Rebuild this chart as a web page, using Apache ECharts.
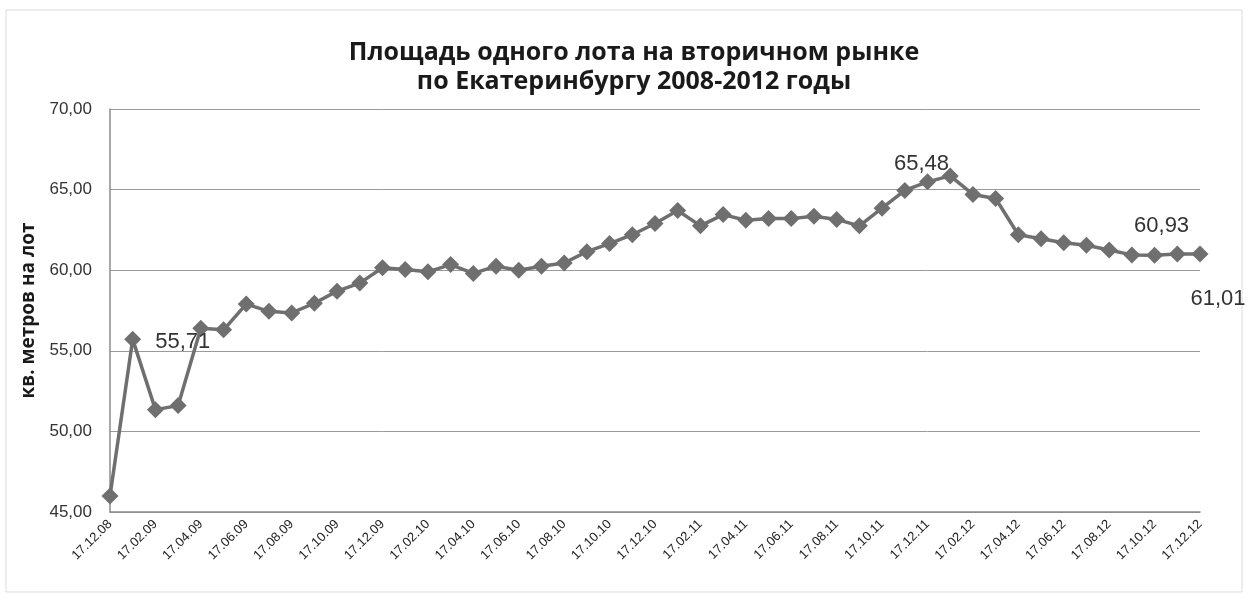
<!DOCTYPE html>
<html>
<head>
<meta charset="utf-8">
<script src="https://cdn.jsdelivr.net/npm/echarts@6/dist/echarts.min.js"></script>
<style>
html,body{margin:0;padding:0;background:#fff;}
#chart{width:1248px;height:599px;}
</style>
</head>
<body>
<div id="chart"></div>
<script>
const categories = [
  '17.12.08','17.01.09','17.02.09','17.03.09','17.04.09','17.05.09','17.06.09','17.07.09','17.08.09','17.09.09','17.10.09','17.11.09',
  '17.12.09','17.01.10','17.02.10','17.03.10','17.04.10','17.05.10','17.06.10','17.07.10','17.08.10','17.09.10','17.10.10','17.11.10',
  '17.12.10','17.01.11','17.02.11','17.03.11','17.04.11','17.05.11','17.06.11','17.07.11','17.08.11','17.09.11','17.10.11','17.11.11',
  '17.12.11','17.01.12','17.02.12','17.03.12','17.04.12','17.05.12','17.06.12','17.07.12','17.08.12','17.09.12','17.10.12','17.11.12',
  '17.12.12'
];
const values = [
  46.00, 55.71, 51.35, 51.60, 56.40, 56.30, 57.90, 57.45, 57.35, 57.95, 58.70, 59.20,
  60.15, 60.05, 59.90, 60.35, 59.80, 60.25, 60.00, 60.25, 60.45, 61.15, 61.65, 62.20,
  62.90, 63.70, 62.75, 63.45, 63.10, 63.20, 63.20, 63.35, 63.15, 62.75, 63.85, 64.95,
  65.48, 65.85, 64.70, 64.45, 62.20, 61.95, 61.70, 61.55, 61.25, 60.95, 60.93, 61.00,
  61.01
];
const labeledIndices = [1, 36, 46, 48];
const titleLines = ['Площадь одного лота на вторичном рынке', 'по Екатеринбургу 2008-2012 годы'];
const yAxisName = 'кв. метров на лот';

const fmt = v => v.toFixed(2).replace('.', ',');

const labelStyles = {
  1:  {position: 'right', distance: 14, offset: [0, 3]},
  36: {position: 'top', distance: 0, offset: [-6, 2]},
  46: {position: 'top', distance: 10, offset: [7, 0]},
  48: {position: 'bottom', distance: 26, offset: [18, 0]}
};

const seriesData = values.map((v, i) => {
  if (labeledIndices.indexOf(i) >= 0) {
    return {
      value: v,
      label: Object.assign({
        show: true,
        formatter: p => fmt(p.value),
        fontSize: 22,
        color: '#333333',
        fontFamily: 'Liberation Sans, Arial, sans-serif'
      }, labelStyles[i])
    };
  }
  return v;
});

const chart = echarts.init(document.getElementById('chart'), null, {renderer: 'canvas'});
chart.setOption({
  backgroundColor: '#ffffff',
  animation: false,
  title: {
    text: titleLines.join('\n'),
    left: 629,
    top: 33,
    textAlign: 'center',
    textStyle: {
      fontSize: 25,
      fontWeight: 'bold',
      lineHeight: 29,
      color: '#1a1a1a',
      fontFamily: 'Open Sans, Liberation Sans, sans-serif'
    }
  },
  graphic: [{
    type: 'rect',
    shape: {x: 6, y: 10, width: 1236, height: 582},
    style: {fill: 'none', stroke: '#dcdcdc', lineWidth: 1},
    silent: true
  }],
  grid: {left: 110, right: 48, top: 109, bottom: 87, containLabel: false},
  xAxis: {
    type: 'category',
    data: categories,
    boundaryGap: false,
    axisLine: {show: true, lineStyle: {color: '#8c8c8c', width: 1.5}},
    axisTick: {show: false},
    axisLabel: {
      interval: 1,
      rotate: 45,
      fontSize: 13,
      color: '#222',
      margin: 10,
      fontFamily: 'Liberation Sans Narrow, Liberation Sans, sans-serif'
    },
    splitLine: {show: false}
  },
  yAxis: {
    type: 'value',
    min: 45,
    max: 70,
    interval: 5,
    name: yAxisName,
    nameLocation: 'middle',
    nameGap: 72,
    nameTextStyle: {
      fontSize: 19,
      fontWeight: 'bold',
      color: '#1a1a1a',
      fontFamily: 'Open Sans, Liberation Sans, sans-serif'
    },
    axisLine: {show: true, lineStyle: {color: '#8c8c8c', width: 1.5}},
    axisTick: {show: false},
    axisLabel: {
      formatter: v => fmt(v),
      fontSize: 17,
      color: '#333',
      margin: 18,
      fontFamily: 'Liberation Sans, sans-serif'
    },
    splitLine: {show: true, lineStyle: {color: '#9a9a9a', width: 1}}
  },
  series: [{
    type: 'line',
    data: seriesData,
    symbol: 'diamond',
    symbolSize: 17,
    showAllSymbol: true,
    lineStyle: {color: '#6f6f6f', width: 3.5},
    itemStyle: {color: '#6f6f6f'}
  }]
});
</script>
</body>
</html>
